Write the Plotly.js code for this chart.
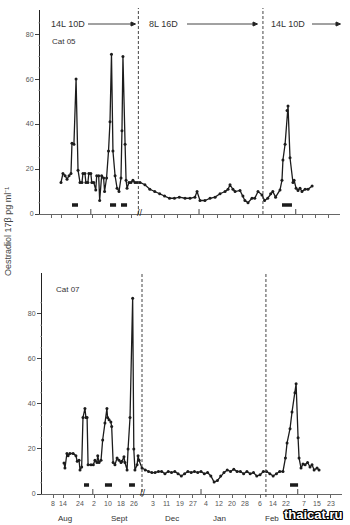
<!DOCTYPE html>
<html><head><meta charset="utf-8">
<script src="https://cdn.plot.ly/plotly-3.0.1.min.js"></script>
<style>html,body{margin:0;padding:0;background:#fff}#c{width:350px;height:525px}</style>
</head><body><div id="c"></div>
<script>
// ---- Data (x = day index on broken time axis, Oct–Nov omitted; y = oestradiol pg/ml) ----
const cat05Days = [13.8,15,16.3,17.5,18.7,19.9,20.5,21.7,23,24.2,25.4,26.6,27.2,28.4,29,30.2,30.8,32,32.6,33.8,35,35.6,36.8,37.4,38.6,39.8,40.4,41.6,42.8,43.7,44.6,45.5,46.8,48,49.2,50.4,51,51.6,52.9,53.5,54.1,55.3,56.5,57.7,58.9,60.2,62,
  65,68,71,74,77,80,83,86,89.5,92.5,95.5,96.8,98.6,101.6,104.7,107.8,110.8,113.9,115.7,116.9,118.7,120,123,124.8,126,127.9,130.3,132,134,136.4,138,139.9,141.7,143,144.7,147.4,148.6,149.2,150.5,151.7,152.3,153.5,155.3,156,157.2,158.4,159.6,160.8,162.7,164.5,167];
const cat05Vals = [14,18,17,15.5,17,18,31.5,31,60,19.5,14,14,18,18,14,14,18,18,14,14,10.7,17,17,6,17,16,10,16,28,41,71,28,17,11.5,10,16,37,70,31,15,11.5,14,14,15,14,14,14,
  13,11,10,9,8,7,7,7.5,7,7,7.5,10,6,6,7,7.5,9,10,11,13,11,10,10.5,8,6,5,7,7,10,8.5,6,7,9,10,7.5,10.7,15,24,31,46,48,25,14,15,11.5,10.5,11.5,10,11,11,12.5];

const cat07Days = [14.4,15,16.2,16.9,18,20,21.7,22.5,23.6,24.2,25.2,26,27.2,27.8,28.5,29.1,30.9,32.3,33.3,34.5,35,35.8,37,38,39.4,40.6,41,41.9,43,43.5,44.4,45.5,46.8,48,49.2,49.8,51,51.6,52.9,53.5,54.7,56.3,57,57.7,59,59.6,60.2,62,
  64,66,68,70,72,74,76,78,80,82,84,86,88,90,92,94,96,98,100,102,104,106,108,110,112,114,116,118,120,122,124,126,128,130,132,134,136,138,140,142,144,146,148,149.5,150.5,152.3,153.5,155.3,156,157.2,157.8,159,160.2,161.5,163,164.5,165.7,167,168.8,170];
const cat07Vals = [13.8,11.5,18,17,18,18,17,14.5,15,10.7,12,34,38,34,34,13,13,13,15,14,17,14,15,24,31.5,38,34,33,32,30,14,13,16,15,14,14.5,16.5,14,10.7,20,34,87,20,10.7,13,17,15,11.5,
  10.7,10,9.5,9.5,10,10,9,10,9.5,10,9,8,9,10,9.5,10,9.5,10,9,9.5,8,5.3,6,8,9.5,10.7,10,11,10,10,9,10,9,9.5,8,8.5,10,10,9,8,9,10,10,16,22.7,29,36.4,45,49,25,16,11.5,13.3,13,14,12,13,10.7,11.5,10.7];

// black bars (periods marked under the curves): start/end day pairs
const cat05BarStart = [20.5,43.7,50.4,148.6];
const cat05BarEnd   = [24.2,47.4,54.1,154.7];
const cat07BarStart = [26.6,39.4,54.1,152.3];
const cat07BarEnd   = [29.7,43.7,57.7,157.2];
const barLevel = 4;

// x tick labels (day of month) and their day positions
const tickDays   = [8,14,24,33,41,49,57,69,77,85,93,101,109,117,125,134,142,150,161,169,177];
const tickLabels = ['8','14','24','2','10','18','26','3','11','19','27','4','12','20','28','6','14','22','7','15','23'];
const monthLabels = ['Aug','Sept','Dec','Jan','Feb'];
const monthDays   = [15,48,80,109,141];
const monthStartDays = [32,98,157];
const lightChangeDays = [61,137];
const photoperiods = ['14L 10D','8L 16D','14L 10D'];

// ---- helpers ----
const W=350,H=525;
const px=x=>x/W, py=y=>1-y/H;
const INK='#1c1c1c';
const X0=1, X1=184;

function barXY(s,e){const x=[],y=[];s.forEach((v,i)=>{x.push(v,e[i],null);y.push(barLevel,barLevel,null);});return {x,y};}
const b5=barXY(cat05BarStart,cat05BarEnd), b7=barXY(cat07BarStart,cat07BarEnd);

const traces=[
 {x:cat05Days,y:cat05Vals,xaxis:'x',yaxis:'y',mode:'lines+markers',line:{color:INK,width:1.3},marker:{color:INK,size:3},hoverinfo:'skip'},
 {x:cat07Days,y:cat07Vals,xaxis:'x2',yaxis:'y2',mode:'lines+markers',line:{color:INK,width:1.3},marker:{color:INK,size:3},hoverinfo:'skip'},
 {x:b5.x,y:b5.y,xaxis:'x',yaxis:'y',mode:'lines',line:{color:INK,width:3.5},connectgaps:false,hoverinfo:'skip'},
 {x:b7.x,y:b7.y,xaxis:'x2',yaxis:'y2',mode:'lines',line:{color:INK,width:3.5},connectgaps:false,hoverinfo:'skip'}
];

const tickFont={family:'Liberation Sans, Arial, sans-serif',size:7,color:'#555'};
function xa(dom,anchor){return {domain:dom,range:[X0,X1],anchor:anchor,showgrid:false,zeroline:false,showline:true,linecolor:'#666',linewidth:1,
  tickmode:'array',tickvals:tickDays,showticklabels:false,ticks:'outside',ticklen:3,tickcolor:'#666',fixedrange:true};}
function ya(dom,top,anchor){return {domain:dom,range:[0,top],anchor:anchor,showgrid:false,zeroline:false,showline:true,linecolor:'#222',linewidth:1,
  tickmode:'array',tickvals:[0,20,40,60,80],ticks:'outside',ticklen:4,tickcolor:'#444',tickfont:tickFont,fixedrange:true};}

const shapes=[];
const dashStyle={color:'#444',width:1,dash:'3px,2px'};
lightChangeDays.forEach(d=>shapes.push({type:'line',xref:'x',yref:'paper',x0:d,x1:d,y0:py(214),y1:py(8),line:dashStyle}));
[lightChangeDays[0]+1,lightChangeDays[1]+0.6].forEach(d=>shapes.push({type:'line',xref:'x2',yref:'paper',x0:d,x1:d,y0:py(497),y1:py(272),line:dashStyle}));
// month-start ticks
monthStartDays.forEach(d=>{
  shapes.push({type:'line',xref:'x',yref:'y',x0:d,x1:d,y0:0,y1:2.2,line:{color:'#444',width:1}});
  shapes.push({type:'line',xref:'x2',yref:'y2',x0:d,x1:d,y0:0,y1:2.2,line:{color:'#444',width:1}});
});
// photoperiod arrows
[[88,133],[187,255],[312,338]].forEach(([a,b])=>{
  shapes.push({type:'line',xref:'paper',yref:'paper',x0:px(a),x1:px(b),y0:py(24),y1:py(24),line:{color:'#444',width:1}});
  shapes.push({type:'path',xref:'paper',yref:'paper',path:`M ${px(b-2)},${py(22)} L ${px(b+2.5)},${py(24)} L ${px(b-2)},${py(26)} Z`,fillcolor:'#222',line:{color:'#222',width:1}});
});
// y minor ticks (every 5 units)
const minorVals=[];for(let v=5;v<=85;v+=5){if(v%20)minorVals.push(v);}
minorVals.forEach(v=>{
  shapes.push({type:'line',xref:'paper',yref:'y',x0:px(38.5),x1:px(40),y0:v,y1:v,line:{color:'#777',width:1}});
  shapes.push({type:'line',xref:'paper',yref:'y2',x0:px(40.5),x1:px(42),y0:v,y1:v,line:{color:'#777',width:1}});
});

const lab={family:'Liberation Sans, Arial, sans-serif',size:8,color:'#333'};
const f9={family:'Liberation Sans, Arial',size:9,color:'#333'};
const ann=[
 {text:photoperiods[0],x:px(49),y:py(24),xanchor:'left',yanchor:'middle',font:f9},
 {text:photoperiods[1],x:px(147),y:py(24),xanchor:'left',yanchor:'middle',font:f9},
 {text:photoperiods[2],x:px(269),y:py(24),xanchor:'left',yanchor:'middle',font:f9},
 {text:'Cat 05',x:px(50),y:py(42),xanchor:'left',yanchor:'middle'},
 {text:'Cat 07',x:px(54),y:py(289),xanchor:'left',yanchor:'middle'},
 {text:'Oestradiol 17β pg ml⁻¹',x:px(8),y:py(232),textangle:-90,xanchor:'center',yanchor:'middle',font:{family:'Liberation Sans, Arial',size:9,color:'#444'}},
 {text:'//',x:px(140),y:py(213),xanchor:'center',yanchor:'middle',font:{family:'Liberation Sans, Arial',size:9,color:'#222'}},
 {text:'//',x:px(143),y:py(493),xanchor:'center',yanchor:'middle',font:{family:'Liberation Sans, Arial',size:9,color:'#222'}}
].map(a=>Object.assign({xref:'paper',yref:'paper',showarrow:false,font:lab},a));
// bottom day-of-month tick labels, placed on the lower x axis
tickLabels.forEach((t,i)=>ann.push({text:t,xref:'x2',yref:'paper',x:tickDays[i],y:py(503),showarrow:false,xanchor:'center',yanchor:'middle',font:tickFont}));
monthLabels.forEach((m,i)=>ann.push({text:m,xref:'x2',yref:'paper',x:monthDays[i],y:py(518),showarrow:false,xanchor:'center',yanchor:'middle',font:lab}));
ann.push({text:'<b>thaicat.ru</b>',xref:'paper',yref:'paper',x:px(313),y:py(514),showarrow:false,xanchor:'center',yanchor:'middle',
  font:{family:'Liberation Sans, Arial',size:13,color:'#fff',shadow:'1px 1px 0 #000, -1px -1px 0 #000, 1px -1px 0 #000, -1px 1px 0 #000, 0 1px 0 #000, 0 -1px 0 #000, 1px 0 0 #000, -1px 0 0 #000'}});

const layout={width:W,height:H,margin:{l:0,r:0,t:0,b:0},paper_bgcolor:'#fff',plot_bgcolor:'rgba(0,0,0,0)',showlegend:false,
 xaxis:xa([px(40),px(340)],'y'),
 yaxis:ya([py(214),py(10)],90.7,'x'),
 xaxis2:xa([px(42),px(342)],'y2'),
 yaxis2:ya([py(494),py(273)],98.2,'x2'),
 shapes:shapes,annotations:ann};

Plotly.newPlot('c',traces,layout,{staticPlot:true,displayModeBar:false});
</script></body></html>
